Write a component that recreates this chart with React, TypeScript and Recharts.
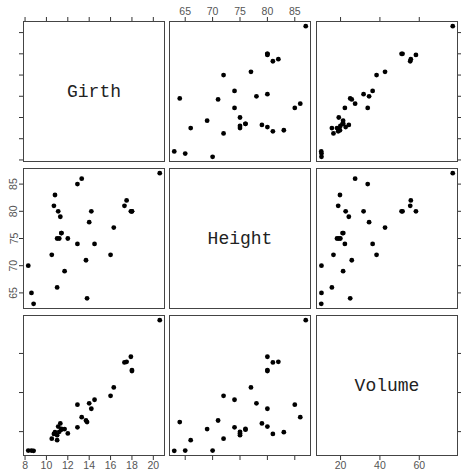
import React from "react"
import { ScatterChart, Scatter, XAxis, YAxis } from "recharts"

// R "trees" data
const girth = [8.3, 8.6, 8.8, 10.5, 10.7, 10.8, 11.0, 11.0, 11.1, 11.2, 11.3, 11.4, 11.4, 11.7, 12.0, 12.9, 12.9, 13.3, 13.7, 13.8, 14.0, 14.2, 14.5, 16.0, 16.3, 17.3, 17.5, 17.9, 18.0, 18.0, 20.6]
const height = [70, 65, 63, 72, 81, 83, 66, 75, 80, 75, 79, 76, 76, 69, 75, 74, 85, 86, 71, 64, 78, 80, 74, 72, 77, 81, 82, 80, 80, 80, 87]
const volume = [10.3, 10.3, 10.2, 16.4, 18.8, 19.7, 15.6, 18.2, 22.6, 19.9, 24.2, 21.0, 21.4, 21.3, 19.1, 22.2, 33.8, 27.4, 25.7, 24.9, 34.5, 31.7, 36.3, 38.3, 42.6, 55.4, 55.7, 58.3, 51.5, 51.0, 77.0]

const varNames = ["Girth", "Height", "Volume"]
const girthTicks = [8, 10, 12, 14, 16, 18, 20]
const heightTicks = [65, 70, 75, 80, 85]
const volumeTicks = [20, 40, 60]

const series = [girth, height, volume]
const tickSets = [girthTicks, heightTicks, volumeTicks]

const colX = [23, 169, 316]
const rowY = [21, 168, 315]
const PW = 142
const PH = 141
const PAD = 24

const padded = (v: number[]): [number, number] => {
  const lo = Math.min(...v)
  const hi = Math.max(...v)
  const d = (hi - lo) * 0.04
  return [lo - d, hi + d]
}
const domains = series.map(padded)

const labelFont = "'Liberation Sans', 'DejaVu Sans', sans-serif"
const labelColor = "#555"
const labelSize = 10.5

const NoTick = () => <g />

const BottomTick = (props: any) => (
  <text x={props.x} y={props.y} dy="0.78em" textAnchor="middle" fontSize={labelSize} fontFamily={labelFont} fill={labelColor}>
    {props.payload.value}
  </text>
)

const LeftTick = (props: any) => (
  <text
    x={props.x - 0.5}
    y={props.y}
    transform={`rotate(-90 ${props.x - 0.5} ${props.y})`}
    textAnchor="middle"
    fontSize={labelSize}
    fontFamily={labelFont}
    fill={labelColor}
  >
    {props.payload.value}
  </text>
)

const topTickStyle = { fontSize: labelSize, fontFamily: labelFont, fill: labelColor }

const Dot = (props: any) => <circle cx={props.cx} cy={props.cy} r={2.4} fill="#000" />

function Panel({ row, col }: { row: number; col: number }) {
  const xd = domains[col]
  const yd = domains[row]
  const data = row === col ? [] : series[col].map((v, i) => ({ x: v, y: series[row][i] }))
  const tl = { stroke: "#333" }

  const topTick = row === 0 ? (col === 1 ? topTickStyle : NoTick) : false
  const bottomTick = row === 2 ? (col === 1 ? NoTick : BottomTick) : false
  const leftTick = col === 0 ? (row === 1 ? LeftTick : NoTick) : false
  const rightTick = col === 2 ? NoTick : false

  return (
    <div style={{ position: "absolute", left: colX[col] - PAD, top: rowY[row] - PAD }}>
      <ScatterChart width={PW + 2 * PAD} height={PH + 2 * PAD} margin={{ top: 0, right: 0, bottom: 0, left: 0 }}>
        <XAxis xAxisId="b" type="number" dataKey="x" orientation="bottom" domain={xd} allowDataOverflow
          ticks={tickSets[col]} height={PAD} axisLine={false} tickSize={4} tickMargin={1}
          tick={bottomTick as any} tickLine={row === 2 ? tl : false} interval={0} />
        <XAxis xAxisId="t" type="number" dataKey="x" orientation="top" domain={xd} allowDataOverflow
          ticks={tickSets[col]} height={PAD} axisLine={false} tickSize={4} tickMargin={2}
          tick={topTick as any} tickLine={row === 0 ? tl : false} interval={0} />
        <YAxis yAxisId="l" type="number" dataKey="y" orientation="left" domain={yd} allowDataOverflow
          ticks={tickSets[row]} width={PAD} axisLine={false} tickSize={4} tickMargin={1}
          tick={leftTick as any} tickLine={col === 0 ? tl : false} interval={0} />
        <YAxis yAxisId="r" type="number" dataKey="y" orientation="right" domain={yd} allowDataOverflow
          ticks={tickSets[row]} width={PAD} axisLine={false} tickSize={4} tickMargin={1}
          tick={rightTick as any} tickLine={col === 2 ? tl : false} interval={0} />
        <Scatter xAxisId="b" yAxisId="l" data={data} shape={Dot} isAnimationActive={false} />
        <Scatter xAxisId="t" yAxisId="r" data={data} shape={() => <g />} isAnimationActive={false} />
      </ScatterChart>
      <div
        style={{
          position: "absolute",
          left: PAD,
          top: PAD,
          width: PW,
          height: PH,
          boxSizing: "border-box",
          border: "1px solid #444",
          pointerEvents: "none",
          display: "flex",
          alignItems: "center",
          justifyContent: "center",
          fontFamily: "'Liberation Mono', 'DejaVu Sans Mono', monospace",
          fontSize: 18,
          color: "#222",
        }}
      >
        {row === col ? varNames[row] : null}
      </div>
    </div>
  )
}

export default function App() {
  const cells: React.ReactNode[] = []
  for (let r = 0; r < 3; r++) {
    for (let c = 0; c < 3; c++) {
      cells.push(<Panel key={`${r}-${c}`} row={r} col={c} />)
    }
  }
  return (
    <div style={{ position: "absolute", left: 0, top: 0, width: 461, height: 474, overflow: "hidden", background: "#fff" }}>
      {cells}
    </div>
  )
}
